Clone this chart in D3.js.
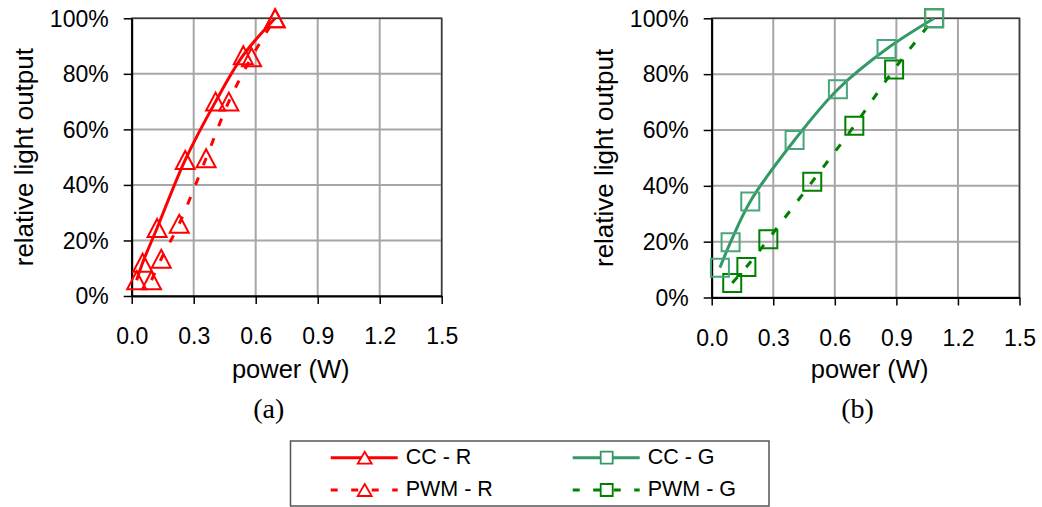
<!DOCTYPE html>
<html>
<head>
<meta charset="utf-8">
<script src="https://cdn.jsdelivr.net/npm/d3@7"></script>
<style>
  html, body { margin: 0; padding: 0; background: #fff; }
  svg { display: block; }
  text { font-family: "Liberation Sans", Arial, sans-serif; fill: #000; }
</style>
</head>
<body>
<svg id="chart" width="1042" height="507"></svg>
<script>
// ---------- data ----------
const xTicks = [0, 0.3, 0.6, 0.9, 1.2, 1.5];
const yTicks = [0, 0.2, 0.4, 0.6, 0.8, 1.0];

// (a) red LED
const ccR_power  = [0.024, 0.053, 0.123, 0.259, 0.406, 0.540, 0.694];
const ccR_output = [0.057, 0.120, 0.245, 0.490, 0.700, 0.867, 1.000];
const pwmR_power  = [0.096, 0.143, 0.230, 0.360, 0.470, 0.580, 0.694];
const pwmR_output = [0.057, 0.134, 0.260, 0.496, 0.700, 0.860, 1.000];

// (b) green LED
const ccG_power  = [0.040, 0.092, 0.188, 0.404, 0.615, 0.852, 1.084];
const ccG_output = [0.107, 0.198, 0.344, 0.564, 0.746, 0.890, 1.000];
const pwmG_power  = [0.100, 0.169, 0.276, 0.490, 0.695, 0.889, 1.084];
const pwmG_output = [0.052, 0.109, 0.209, 0.415, 0.615, 0.817, 1.000];

const legendLabels = ["CC - R", "PWM - R", "CC - G", "PWM - G"];
const panelLabels = ["(a)", "(b)"];
const xTitle = "power (W)";
const yTitle = "relative light output";

// ---------- styles ----------
const RED = "#ff0000", CCG = "#339966", PWMG = "#008000";
const DASH = "8,13";

const svg = d3.select("#chart");

function triPath(w, h) {
  return `M0,${-h/2}L${w/2},${h/2}L${-w/2},${h/2}Z`;
}
function sqPath(s) {
  return `M${-s/2},${-s/2}h${s}v${s}h${-s}Z`;
}

function panel(opts) {
  const x = d3.scaleLinear().domain([0, 1.5]).range(opts.xr);
  const y = d3.scaleLinear().domain([0, 1]).range(opts.yr);
  const g = svg.append("g");

  // gridlines
  g.append("g").selectAll("line").data(xTicks.slice(1)).join("line")
    .attr("x1", d => x(d)).attr("x2", d => x(d))
    .attr("y1", y(0)).attr("y2", y(1))
    .attr("stroke", "#a6a6a6").attr("stroke-width", 2);
  g.append("g").selectAll("line").data(yTicks.slice(1)).join("line")
    .attr("x1", x(0)).attr("x2", x(1.5))
    .attr("y1", d => y(d)).attr("y2", d => y(d))
    .attr("stroke", "#a6a6a6").attr("stroke-width", 2);
  // plot border
  g.append("rect")
    .attr("x", x(0)).attr("y", y(1))
    .attr("width", x(1.5) - x(0)).attr("height", y(0) - y(1))
    .attr("fill", "none").attr("stroke", "#3a3a3a").attr("stroke-width", 1.5);

  // axes
  const ax = g.append("g").attr("transform", `translate(0,${y(0)})`)
    .call(d3.axisBottom(x).tickValues(xTicks).tickFormat(d3.format(".1f"))
      .tickSizeInner(8).tickSizeOuter(0).tickPadding(24));
  const ay = g.append("g").attr("transform", `translate(${x(0)},0)`)
    .call(d3.axisLeft(y).tickValues(yTicks).tickFormat(d3.format(".0%"))
      .tickSizeInner(8).tickSizeOuter(0).tickPadding(15));
  [ax, ay].forEach(a => {
    a.select(".domain").attr("stroke", "#000").attr("stroke-width", 2);
    a.selectAll(".tick line").attr("stroke", "#000").attr("stroke-width", 1.5);
    a.selectAll("text").attr("font-size", 23).attr("fill", "#000")
      .attr("font-family", '"Liberation Sans", Arial, sans-serif');
  });
  ay.selectAll("text").attr("dy", "0.34em");
  ax.selectAll("text").attr("dy", "0.71em");

  // titles
  g.append("text").attr("x", (x(0) + x(1.5)) / 2 + 4).attr("y", 378)
    .attr("text-anchor", "middle").attr("font-size", 25.5).text(xTitle);
  g.append("text")
    .attr("transform", `translate(${opts.ytx},${(y(0) + y(1)) / 2}) rotate(-90)`)
    .attr("text-anchor", "middle").attr("font-size", 26).text(yTitle);
  g.append("text").attr("x", opts.capX).attr("y", 418)
    .attr("text-anchor", "middle").attr("font-size", 28)
    .style("font-family", '"Liberation Serif", "Times New Roman", serif')
    .text(opts.caption);

  const line = d3.line().x(d => x(d[0])).y(d => y(d[1])).curve(d3.curveCatmullRom.alpha(0.5));

  opts.series.forEach(s => {
    const pts = d3.zip(s.px, s.py);
    g.append("path").datum(pts).attr("d", line)
      .attr("fill", "none").attr("stroke", s.color).attr("stroke-width", 3)
      .attr("stroke-dasharray", s.dash ? DASH : null);
    g.append("g").selectAll("path").data(pts).join("path")
      .attr("transform", d => `translate(${x(d[0])},${y(d[1])})`)
      .attr("d", s.marker === "tri" ? triPath(19, 18) : sqPath(18))
      .attr("fill", "none").attr("stroke", s.mcolor || s.color).attr("stroke-width", 2);
  });
}

panel({
  xr: [131.7, 441.7], yr: [296, 18.3], ytx: 33, capX: 268.7, caption: panelLabels[0],
  series: [
    { px: pwmR_power, py: pwmR_output, color: RED, dash: true, marker: "tri" },
    { px: ccR_power, py: ccR_output, color: RED, dash: false, marker: "tri" }
  ]
});
panel({
  xr: [711.7, 1019.5], yr: [297.5, 18.3], ytx: 613, capX: 857.5, caption: panelLabels[1],
  series: [
    { px: pwmG_power, py: pwmG_output, color: PWMG, dash: true, marker: "sq" },
    { px: ccG_power, py: ccG_output, color: CCG, mcolor: "#4aa57a", dash: false, marker: "sq" }
  ]
});

// ---------- legend ----------
const leg = svg.append("g");
leg.append("rect").attr("x", 290.5).attr("y", 441).attr("width", 478.5).attr("height", 65)
  .attr("fill", "#fff").attr("stroke", "#555").attr("stroke-width", 1.5);
const legItems = [
  { label: legendLabels[0], color: RED, dash: false, marker: "tri", x: 330.7, y: 457.7 },
  { label: legendLabels[1], color: RED, dash: true, marker: "tri", x: 330.7, y: 490 },
  { label: legendLabels[2], color: CCG, dash: false, marker: "sq", x: 572.7, y: 457.7 },
  { label: legendLabels[3], color: PWMG, dash: true, marker: "sq", x: 572.7, y: 490 }
];
legItems.forEach(it => {
  const gi = leg.append("g");
  gi.append("line").attr("x1", it.x).attr("x2", it.x + 67).attr("y1", it.y).attr("y2", it.y)
    .attr("stroke", it.color).attr("stroke-width", 3)
    .attr("stroke-dasharray", it.dash ? "7,13.5" : null);
  gi.append("path").attr("transform", `translate(${it.x + 34},${it.y})`)
    .attr("d", it.marker === "tri" ? triPath(14, 12) : sqPath(12))
    .attr("fill", "#fff").attr("stroke", it.color).attr("stroke-width", 1.8);
  gi.append("text").attr("x", it.x + 75).attr("y", it.y + 6)
    .attr("font-size", 21.5).text(it.label);
});
</script>
</body>
</html>
